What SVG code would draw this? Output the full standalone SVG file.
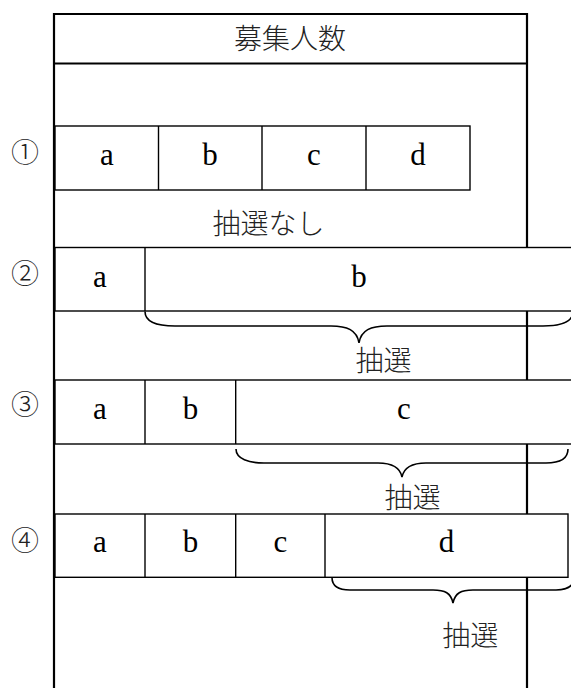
<svg xmlns="http://www.w3.org/2000/svg" width="571" height="688" viewBox="0 0 571 688">
<style>
.frame{fill:none;stroke:#000;stroke-width:2.2}
.cell{fill:#fff;stroke:#000;stroke-width:1.4}
.div{stroke:#000;stroke-width:1.4}
.brace{fill:none;stroke:#000;stroke-width:1.6}
.lt{font-family:"Liberation Serif","Times New Roman",serif;font-size:31px;fill:#000;text-anchor:middle}
.jp{font-family:"Noto Sans CJK JP","Noto Sans CJK SC",sans-serif;font-size:28px;font-weight:300;fill:#222;text-anchor:middle}
.num{font-family:"Noto Sans CJK JP","Noto Sans CJK SC",sans-serif;font-size:28px;font-weight:300;fill:#222;text-anchor:middle}
</style>
<rect width="571" height="688" fill="#fff"/>
<g id="frame">
<path class="frame" d="M54,690 V14 H527 V690"/>
<line class="frame" x1="54" y1="63.5" x2="527" y2="63.5"/>
<text class="jp" x="290" y="49">募集人数</text>
</g>
<g id="row1">
<text class="num" x="25" y="163">①</text>
<rect class="cell" x="55" y="126" width="415" height="64"/>
<line class="div" x1="158.5" y1="126" x2="158.5" y2="190"/>
<line class="div" x1="262" y1="126" x2="262" y2="190"/>
<line class="div" x1="366" y1="126" x2="366" y2="190"/>
<text class="lt" x="107" y="165">a</text>
<text class="lt" x="210" y="165">b</text>
<text class="lt" x="314" y="165">c</text>
<text class="lt" x="418" y="165">d</text>
</g>
<g id="label-none">
<text class="jp" x="268.5" y="234">抽選なし</text>
</g>
<g id="row2">
<text class="num" x="25" y="284">②</text>
<rect class="cell" x="55" y="247.5" width="525" height="63.5"/>
<line class="div" x1="145" y1="247.5" x2="145" y2="311"/>
<text class="lt" x="100" y="287">a</text>
<text class="lt" x="359" y="287">b</text>
</g>
<g id="row3">
<text class="num" x="25" y="415">③</text>
<rect class="cell" x="55" y="380" width="525" height="64"/>
<line class="div" x1="145" y1="380" x2="145" y2="444"/>
<line class="div" x1="235.7" y1="380" x2="235.7" y2="444"/>
<text class="lt" x="100" y="419">a</text>
<text class="lt" x="190.5" y="419">b</text>
<text class="lt" x="404" y="419">c</text>
</g>
<g id="row4">
<text class="num" x="25" y="551">④</text>
<rect class="cell" x="55" y="514" width="513" height="63.3"/>
<line class="div" x1="145" y1="514" x2="145" y2="577.3"/>
<line class="div" x1="235.7" y1="514" x2="235.7" y2="577.3"/>
<line class="div" x1="325" y1="514" x2="325" y2="577.3"/>
<text class="lt" x="100" y="552">a</text>
<text class="lt" x="190.5" y="552">b</text>
<text class="lt" x="280.5" y="552">c</text>
<text class="lt" x="446.5" y="552">d</text>
</g>
<g id="connectors">
<path class="brace" d="M145,311.5 C145,322 158,326 175,326 L331,326 C347,326 357,330 359,343 C361,330 371,326 387,326 L543,326 C560,326 573,322 573,311.5"/>
<path class="brace" d="M236,449 C236,459 249,463 264,463 L378,463 C392,463 400,467 402,477 C404,467 412,463 426,463 L546,463 C560,463 568,459 568,449"/>
<path class="brace" d="M332,577.5 C332,586 338,590 350,590 L433,590 C445,590 451,593 453,603 C455,593 461,590 473,590 L556,590 C568,590 574,586 574,577.5"/>
</g>
<g id="lottery-labels">
<text class="jp" x="383.5" y="371">抽選</text>
<text class="jp" x="412.5" y="507.5">抽選</text>
<text class="jp" x="470.3" y="645.5">抽選</text>
</g>
</svg>
